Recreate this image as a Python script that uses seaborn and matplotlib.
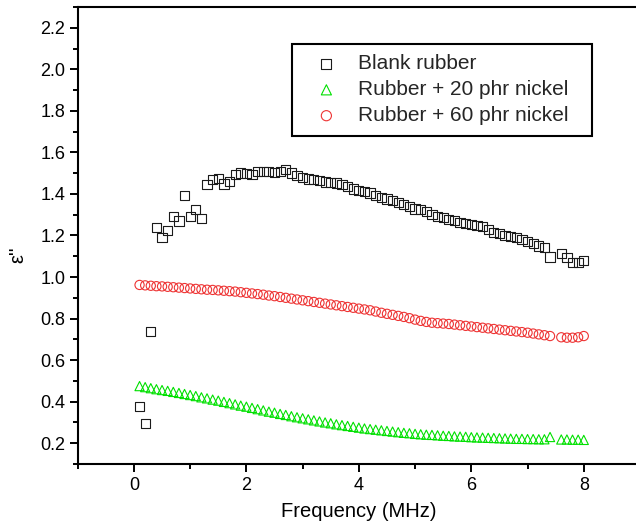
import numpy as np
import pandas as pd
import matplotlib
matplotlib.use("Agg")
import matplotlib.pyplot as plt
import seaborn as sns
from matplotlib.ticker import MultipleLocator

# ---- data ----
freq = [0.1, 0.2, 0.3, 0.4, 0.5, 0.6, 0.7, 0.8, 0.9, 1.0,
        1.1, 1.2, 1.3, 1.4, 1.5, 1.6, 1.7, 1.8, 1.9, 2.0,
        2.1, 2.2, 2.3, 2.4, 2.5, 2.6, 2.7, 2.8, 2.9, 3.0,
        3.1, 3.2, 3.3, 3.4, 3.5, 3.6, 3.7, 3.8, 3.9, 4.0,
        4.1, 4.2, 4.3, 4.4, 4.5, 4.6, 4.7, 4.8, 4.9, 5.0,
        5.1, 5.2, 5.3, 5.4, 5.5, 5.6, 5.7, 5.8, 5.9, 6.0,
        6.1, 6.2, 6.3, 6.4, 6.5, 6.6, 6.7, 6.8, 6.9, 7.0,
        7.1, 7.2, 7.3, 7.4, 7.6, 7.7, 7.8, 7.9, 8.0]

blank = [0.375, 0.295, 0.737, 1.240, 1.190, 1.224, 1.290, 1.270, 1.394, 1.290,
         1.325, 1.280, 1.445, 1.470, 1.473, 1.448, 1.461, 1.493, 1.501, 1.498,
         1.492, 1.509, 1.509, 1.509, 1.504, 1.509, 1.517, 1.501, 1.490, 1.480,
         1.472, 1.469, 1.463, 1.458, 1.456, 1.453, 1.447, 1.437, 1.424, 1.418,
         1.413, 1.405, 1.394, 1.384, 1.376, 1.370, 1.357, 1.349, 1.338, 1.328,
         1.325, 1.317, 1.301, 1.293, 1.285, 1.277, 1.272, 1.264, 1.258, 1.253,
         1.248, 1.242, 1.229, 1.216, 1.210, 1.200, 1.194, 1.189, 1.181, 1.170,
         1.160, 1.149, 1.141, 1.097, 1.113, 1.093, 1.069, 1.069, 1.080]

nickel20 = [0.475, 0.470, 0.465, 0.460, 0.456, 0.452, 0.447, 0.442, 0.437, 0.432,
            0.427, 0.421, 0.416, 0.410, 0.405, 0.399, 0.393, 0.387, 0.381, 0.376,
            0.370, 0.364, 0.358, 0.352, 0.347, 0.341, 0.336, 0.330, 0.325, 0.320,
            0.315, 0.310, 0.305, 0.300, 0.296, 0.291, 0.287, 0.283, 0.279, 0.275,
            0.271, 0.268, 0.265, 0.262, 0.259, 0.256, 0.253, 0.250, 0.248, 0.245,
            0.243, 0.241, 0.240, 0.238, 0.236, 0.235, 0.233, 0.232, 0.231, 0.229,
            0.228, 0.227, 0.226, 0.225, 0.224, 0.223, 0.222, 0.221, 0.221, 0.220,
            0.220, 0.219, 0.219, 0.230, 0.218, 0.218, 0.217, 0.217, 0.216]

nickel60 = [0.962, 0.960, 0.958, 0.956, 0.955, 0.953, 0.951, 0.949, 0.947, 0.945,
            0.943, 0.941, 0.939, 0.938, 0.936, 0.934, 0.932, 0.930, 0.927, 0.924,
            0.921, 0.918, 0.915, 0.911, 0.908, 0.904, 0.900, 0.896, 0.892, 0.888,
            0.884, 0.880, 0.876, 0.872, 0.868, 0.864, 0.860, 0.856, 0.852, 0.848,
            0.844, 0.840, 0.834, 0.828, 0.823, 0.818, 0.813, 0.808, 0.802, 0.795,
            0.789, 0.784, 0.780, 0.778, 0.776, 0.774, 0.771, 0.768, 0.765, 0.762,
            0.759, 0.756, 0.753, 0.750, 0.747, 0.744, 0.741, 0.738, 0.735, 0.732,
            0.728, 0.724, 0.720, 0.716, 0.710, 0.708, 0.708, 0.710, 0.716]

labels = ["Blank rubber", "Rubber + 20 phr nickel", "Rubber + 60 phr nickel"]
x_ticks = [0, 2, 4, 6, 8]
y_ticks = [0.2, 0.4, 0.6, 0.8, 1.0, 1.2, 1.4, 1.6, 1.8, 2.0, 2.2]

# ---- styling ----
sns.set_theme(style="ticks")
plt.rcParams["font.family"] = ["Liberation Sans", "DejaVu Sans"]
plt.rcParams["axes.linewidth"] = 1.5

fig = plt.figure(figsize=(6.36, 5.26), dpi=100)
ax = fig.add_axes([77.7 / 636, (526 - 464) / 526, 562.3 / 636, 457 / 526])

common = dict(ax=ax, s=44, linewidth=0.8, facecolor="none", zorder=3)
sns.scatterplot(x=freq, y=blank, marker="s", edgecolor="#1a1a1a", label=labels[0], **common)
sns.scatterplot(x=freq, y=nickel20, marker="^", edgecolor="#00e000", label=labels[1], **common)
sns.scatterplot(x=freq, y=nickel60, marker="o", edgecolor="#ee3333", label=labels[2], **common)

ax.set_xlim(-1, 9)
ax.set_ylim(0.1, 2.3)
ax.set_xticks(x_ticks)
ax.set_yticks(y_ticks)
ax.set_yticklabels([f"{v:.1f}" for v in y_ticks])
ax.xaxis.set_minor_locator(MultipleLocator(1))
ax.yaxis.set_minor_locator(MultipleLocator(0.1))
ax.tick_params(which="major", direction="out", length=6, width=1.4,
               labelsize=13, color="black", labelcolor="black", pad=3)
ax.tick_params(which="minor", direction="out", length=3.5, width=1.4, color="black")
ax.tick_params(top=False, right=False, which="both")
for sp in ax.spines.values():
    sp.set_color("black")
    sp.set_linewidth(1.5)

ax.set_xlabel("Frequency (MHz)", fontsize=14.5, color="black", labelpad=6)
ax.set_ylabel("ε''", fontsize=14.5, color="black")
ax.yaxis.set_label_coords(-0.09, 0.457)

leg = ax.legend(loc="upper left",
                bbox_to_anchor=((292 - 77.7) / 562.3, (464 - 44) / 457, 300 / 562.3, 0.0),
                mode="expand", borderaxespad=0, fontsize=15, frameon=True,
                fancybox=False, borderpad=0.5, handlelength=2.3, handletextpad=0.35,
                labelspacing=0.33, markerscale=1.1)
leg.get_frame().set_edgecolor("black")
leg.get_frame().set_linewidth(1.5)
leg.get_frame().set_facecolor("white")
leg.get_frame().set_alpha(1)

fig.savefig("out.png", dpi=100)
